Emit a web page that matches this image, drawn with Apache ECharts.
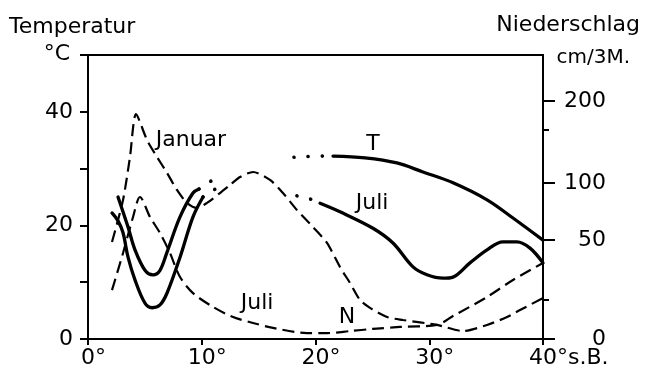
<!DOCTYPE html>
<html><head><meta charset="utf-8">
<script src="https://cdn.jsdelivr.net/npm/echarts@6/dist/echarts.min.js"></script>
<style>html,body{margin:0;padding:0;background:#fff}#c{width:646px;height:382px}</style>
</head><body><div id="c"></div>
<script>
// ---- tick labels ----
const xTickLabels = ['0°', '10°', '20°', '30°', '40°s.B.'];
const leftTickLabels = [0, 20, 40];
const rightTickLabels = [0, 50, 100, 200];
const rightMinorTicks = [20, 165];

// ---- temperature (°C), latitude (°S) ----
const janTempLeftLat  = [2.64, 3.52, 4.13, 5.01, 5.71, 6.33, 6.95, 8.09, 9.23, 9.76];
const janTempLeft     = [25.0, 19.7, 15.7, 12.1, 11.3, 12.1, 15.3, 21.5, 25.7, 26.4];
const janTempLeftDotLat = [9.76, 10.81, 11.87];
const janTempLeftDot    = [26.4, 27.8, 28.9];
const janTempRightDotLat = [18.11, 20.66, 21.54];
const janTempRightDot    = [32.0, 32.2, 32.2];
const janTempRightLat = [21.54, 24.35, 27.16, 29.45, 32.09, 35.08, 37.36, 40.0];
const janTempRight    = [32.2, 31.9, 31.0, 29.4, 27.5, 24.5, 21.3, 17.4];

const julTempLeftLat  = [2.11, 2.64, 3.08, 3.52, 4.13, 5.01, 5.63, 6.33, 6.95, 8.09, 9.23, 10.11];
const julTempLeft     = [22.2, 20.8, 18.7, 14.4, 10.4, 6.3, 5.5, 6.0, 8.1, 14.4, 21.5, 25.0];
const julTempLeftDotLat = [10.11, 10.99, 11.87];
const julTempLeftDot    = [25.0, 26.2, 26.8];
const julTempRightDotLat = [18.37, 19.08, 19.78, 20.40];
const julTempRightDot    = [25.2, 24.8, 24.5, 23.9];
const julTempRightLat = [20.40, 22.15, 25.05, 26.81, 28.57, 29.80, 31.21, 32.09, 33.58, 35.08, 36.48, 37.71, 38.86, 40.0];
const julTempRight    = [23.9, 22.4, 19.5, 16.9, 12.7, 11.3, 10.7, 10.9, 13.4, 15.7, 17.1, 17.1, 16.0, 13.4];

// ---- precipitation (cm / 3 months) ----
const janPrecLat = [2.11, 3.08, 3.69, 4.22, 5.19, 6.07, 6.95, 7.82, 8.70, 9.58, 10.46, 11.60, 12.48, 13.36, 14.51, 16.00, 17.14, 18.37, 19.78, 21.01, 22.15, 23.03, 23.91, 24.79, 26.29, 27.69, 30.68, 32.97, 35.08, 36.84, 37.98, 40.0];
const janPrec    = [49.0, 85.1, 131.7, 184.1, 152.4, 131.7, 112.2, 93.9, 82.5, 78.1, 82.5, 91.2, 98.2, 107.3, 113.4, 103.7, 91.2, 76.3, 61.4, 48.5, 36.4, 28.3, 19.7, 15.7, 11.1, 9.6, 7.1, 4.0, 7.1, 11.1, 14.6, 20.7];
const julPrecLat = [2.11, 3.08, 3.96, 4.57, 5.45, 6.33, 7.21, 8.09, 9.23, 10.99, 12.75, 14.51, 16.26, 19.25, 21.01, 23.03, 25.05, 27.43, 30.68, 32.09, 35.08, 37.36, 40.0];
const julPrec    = [24.7, 43.4, 70.2, 87.7, 70.2, 56.1, 43.4, 31.3, 23.2, 16.2, 11.1, 8.1, 5.6, 3.0, 3.0, 4.0, 5.1, 6.1, 7.1, 11.6, 21.2, 29.8, 38.4];

// ---- curve annotations ----
const annotations = [
  { name: 'Januar', lat: 9.05, temp: 34.9 },
  { name: 'Juli', lat: 14.86, temp: 6.3 },
  { name: 'N', lat: 22.77, temp: 3.9 },
  { name: 'T', lat: 25.05, temp: 34.3 },
  { name: 'Juli', lat: 24.97, temp: 23.9 }
];

// non-linear precipitation scale of the right axis (piecewise linear)
const precipScale = { values: [0, 50, 100, 200], axis: [0, 99, 156, 238], max: 284 };
function toAxis(p) {
  const v = precipScale.values, a = precipScale.axis;
  for (let i = 1; i < v.length; i++) {
    if (p <= v[i] || i === v.length - 1) {
      return a[i - 1] + (p - v[i - 1]) / (v[i] - v[i - 1]) * (a[i] - a[i - 1]);
    }
  }
}
const zip = (xs, ys, f) => xs.map((x, i) => [x, f ? f(ys[i]) : ys[i]]);

const FONT = '"DejaVu Sans", sans-serif';
const FS = 22;
const ctx = document.createElement('canvas').getContext('2d');
ctx.font = FS + 'px DejaVu Sans';
const rich = { n: { fontSize: FS, fontFamily: FONT, color: '#000' } };
xTickLabels.forEach((t, i) => {
  const suf = t.replace(/^\d+/, '');
  rich['p' + i] = { width: ctx.measureText(suf).width, fontSize: FS, fontFamily: FONT };
});

const solid = { color: '#000', width: 3.3, type: 'solid', cap: 'round' };
const dotted = { color: '#000', width: 3.6, type: [0.1, 14], cap: 'round' };
const dashed = { color: '#000', width: 2.2, type: [12, 6] };

function line(data, style, yAxisIndex, smooth) {
  return { type: 'line', data, yAxisIndex: yAxisIndex || 0, showSymbol: false, symbol: 'none',
    smooth: smooth === undefined ? 0.35 : smooth, lineStyle: style, silent: true, animation: false, z: 3 };
}
const axisLine = { show: true, onZero: false, lineStyle: { color: '#000', width: 2 } };

const chart = echarts.init(document.getElementById('c'), null, { renderer: 'canvas' });
chart.setOption({
  backgroundColor: '#fff',
  animation: false,
  grid: { left: 88, right: 103, top: 55, bottom: 43 },
  xAxis: [{
    type: 'value', min: 0, max: 40, interval: 10,
    axisLine,
    axisTick: { length: 6, lineStyle: { color: '#000', width: 2 } },
    splitLine: { show: false },
    axisLabel: {
      margin: 8, color: '#000', fontSize: FS, fontFamily: FONT, rich,
      formatter: v => {
        const i = Math.round(v / 10);
        const t = xTickLabels[i];
        const num = t.match(/^\d+/)[0];
        const suf = t.slice(num.length);
        return '{p' + i + '| }{n|' + num + '}{n|' + suf + '}';
      }
    }
  }, {
    type: 'value', position: 'top', min: 0, max: 40,
    axisLine,
    axisTick: { show: false }, axisLabel: { show: false }, splitLine: { show: false }
  }],
  yAxis: [{
    type: 'value', position: 'left', min: 0, max: 50, interval: 10,
    axisLine,
    axisTick: { show: true, length: 8, lineStyle: { color: '#000', width: 2 } },
    splitLine: { show: false },
    axisLabel: { margin: 15, color: '#000', fontSize: FS, fontFamily: FONT,
      formatter: v => leftTickLabels.includes(v) ? String(v) : '' }
  }, {
    type: 'value', position: 'right', min: 0, max: precipScale.max,
    axisLine,
    axisTick: { show: true, length: 12, lineStyle: { color: '#000', width: 2 },
      customValues: rightTickLabels.map(toAxis) },
    splitLine: { show: false },
    axisLabel: { margin: 63, align: 'right', color: '#000', fontSize: FS, fontFamily: FONT,
      customValues: rightTickLabels.map(toAxis),
      formatter: v => {
        let best = 0;
        rightTickLabels.forEach((p, i) => { if (Math.abs(toAxis(p) - v) < Math.abs(toAxis(rightTickLabels[best]) - v)) best = i; });
        return String(rightTickLabels[best]);
      } }
  }, {
    type: 'value', position: 'right', min: 0, max: precipScale.max,
    axisLine: { show: false, onZero: false },
    axisTick: { show: true, length: 6, lineStyle: { color: '#000', width: 2 },
      customValues: rightMinorTicks.map(toAxis) },
    axisLabel: { show: false }, splitLine: { show: false }
  }],
  graphic: [
    { type: 'text', x: 9, y: 27, style: { text: 'Temperatur', fill: '#000', font: FS + 'px ' + FONT, textVerticalAlign: 'middle' } },
    { type: 'text', x: 70, y: 54, style: { text: '°C', fill: '#000', font: FS + 'px ' + FONT, textAlign: 'right', textVerticalAlign: 'middle' } },
    { type: 'text', x: 640, y: 25, style: { text: 'Niederschlag', fill: '#000', font: FS + 'px ' + FONT, textAlign: 'right', textVerticalAlign: 'middle' } },
    { type: 'text', x: 630, y: 58, style: { text: 'cm/3M.', fill: '#000', font: '20px ' + FONT, textAlign: 'right', textVerticalAlign: 'middle' } }
  ],
  series: [
    line(zip(janTempLeftLat, janTempLeft), solid),
    line(zip(janTempLeftDotLat, janTempLeftDot), dotted),
    line(zip(janTempRightDotLat, janTempRightDot), dotted),
    line(zip(janTempRightLat, janTempRight), solid),
    line(zip(julTempLeftLat, julTempLeft), solid),
    line(zip(julTempLeftDotLat, julTempLeftDot), dotted),
    line(zip(julTempRightDotLat, julTempRightDot), dotted),
    line(zip(julTempRightLat, julTempRight), solid),
    line(zip(janPrecLat, janPrec, toAxis), dashed, 1, 0.25),
    line(zip(julPrecLat, julPrec, toAxis), dashed, 1, 0.3),
    {
      type: 'scatter', symbol: 'circle', symbolSize: 0, itemStyle: { color: '#000' }, silent: true, z: 5,
      data: annotations.map(a => ({ name: a.name, value: [a.lat, a.temp] })),
      label: { show: true, position: 'inside', formatter: p => p.name, color: '#000', opacity: 1, fontSize: FS, fontFamily: FONT }
    }
  ]
});
</script>
</body></html>
